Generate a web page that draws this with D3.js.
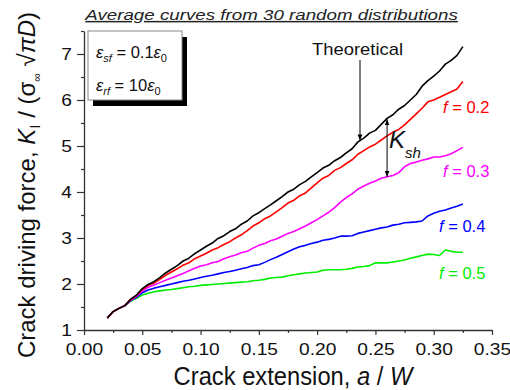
<!DOCTYPE html>
<html><head><meta charset="utf-8">
<script src="https://cdn.jsdelivr.net/npm/d3@7"></script>
<style>
body{margin:0;background:#fff;}
text{font-family:"Liberation Sans",Arial,sans-serif;}
</style></head>
<body>
<svg id="c" width="510" height="390"></svg>
<script>
const aValues = [0.020,0.025,0.030,0.035,0.040,0.045,0.050,0.055,0.060,0.065,0.070,0.075,0.080,0.085,0.090,0.095,0.100,0.105,0.110,0.115,0.120,0.125,0.130,0.135,0.140,0.145,0.150,0.155,0.160,0.165,0.170,0.175,0.180,0.185,0.190,0.195,0.200,0.205,0.210,0.215,0.220,0.225,0.230,0.235,0.240,0.245,0.250,0.255,0.260,0.265,0.270,0.275,0.280,0.285,0.290,0.295,0.300,0.305,0.310,0.315,0.320,0.325];
const theoretical = [1.26,1.40,1.47,1.53,1.67,1.76,1.90,1.99,2.05,2.14,2.24,2.32,2.40,2.50,2.56,2.66,2.74,2.82,2.89,2.99,3.05,3.14,3.20,3.30,3.37,3.48,3.55,3.64,3.72,3.81,3.90,4.00,4.06,4.16,4.23,4.33,4.42,4.52,4.58,4.68,4.75,4.85,4.94,5.09,5.17,5.28,5.34,5.47,5.60,5.68,5.80,5.88,6.00,6.12,6.30,6.42,6.52,6.63,6.78,6.86,6.97,7.16];
const f02 = [1.26,1.40,1.47,1.53,1.66,1.75,1.88,1.97,2.02,2.10,2.19,2.26,2.33,2.41,2.46,2.55,2.61,2.67,2.74,2.79,2.86,2.92,3.00,3.07,3.16,3.26,3.33,3.42,3.48,3.57,3.66,3.76,3.82,3.92,3.98,4.09,4.20,4.30,4.36,4.47,4.53,4.62,4.70,4.82,4.90,4.98,5.04,5.13,5.22,5.30,5.36,5.46,5.58,5.70,5.82,5.96,6.00,6.06,6.12,6.18,6.24,6.40];
const f03 = [1.26,1.40,1.47,1.53,1.65,1.73,1.85,1.93,1.98,2.03,2.08,2.13,2.18,2.23,2.29,2.34,2.39,2.42,2.46,2.49,2.55,2.59,2.63,2.68,2.71,2.78,2.84,2.88,2.94,2.98,3.04,3.10,3.14,3.20,3.26,3.33,3.40,3.48,3.56,3.66,3.78,3.88,3.96,4.06,4.13,4.19,4.24,4.30,4.33,4.36,4.42,4.55,4.62,4.65,4.69,4.72,4.76,4.76,4.79,4.83,4.90,4.97];
const f04 = [1.26,1.40,1.47,1.53,1.64,1.71,1.81,1.87,1.91,1.94,1.97,2.00,2.03,2.06,2.08,2.11,2.14,2.17,2.19,2.22,2.25,2.27,2.30,2.33,2.36,2.40,2.42,2.47,2.53,2.58,2.64,2.70,2.76,2.81,2.84,2.88,2.91,2.95,2.97,3.00,3.04,3.04,3.05,3.10,3.13,3.16,3.19,3.22,3.24,3.28,3.30,3.33,3.34,3.35,3.37,3.48,3.54,3.58,3.61,3.65,3.69,3.74];
const f05 = [1.26,1.40,1.47,1.53,1.63,1.69,1.76,1.80,1.83,1.85,1.87,1.88,1.90,1.92,1.94,1.95,1.97,1.98,1.99,2.00,2.01,2.02,2.03,2.04,2.05,2.07,2.08,2.10,2.13,2.14,2.15,2.18,2.20,2.22,2.24,2.25,2.26,2.30,2.31,2.31,2.31,2.32,2.34,2.37,2.38,2.40,2.46,2.46,2.46,2.48,2.50,2.52,2.56,2.59,2.62,2.65,2.64,2.62,2.74,2.71,2.69,2.69];
const seriesNames = ["Theoretical","f = 0.2","f = 0.3","f = 0.4","f = 0.5"];
const seriesColors = ["#000000","#ff0000","#ff00ff","#0000ff","#00ee00"];
const xTicks = [0.00,0.05,0.10,0.15,0.20,0.25,0.30,0.35];
const yTicks = [1,2,3,4,5,6,7];

const svg = d3.select("#c");
const x = d3.scaleLinear().domain([0,0.35]).range([84,492]);
const y = d3.scaleLinear().domain([1,7.5]).range([330,31]);
const axisColor = "#333";

// axes
const xAxis = svg.append("g").attr("transform","translate(0,330)")
  .call(d3.axisBottom(x).tickValues(xTicks).tickFormat(d3.format(".2f")).tickSize(5).tickSizeOuter(0));
const xMinor = svg.append("g").attr("transform","translate(0,330)")
  .call(d3.axisBottom(x).tickValues(d3.range(0.025,0.35,0.05)).tickFormat("").tickSize(3).tickSizeOuter(0));
xMinor.select(".domain").remove();
const yAxis = svg.append("g").attr("transform","translate(84,0)")
  .call(d3.axisLeft(y).tickValues(yTicks).tickFormat(d3.format("d")).tickSize(7).tickSizeOuter(0));
const yMinor = svg.append("g").attr("transform","translate(84,0)")
  .call(d3.axisLeft(y).tickValues([1.5,2.5,3.5,4.5,5.5,6.5,7.5]).tickFormat("").tickSize(3).tickSizeOuter(0));
yMinor.select(".domain").remove();
svg.selectAll(".domain").attr("stroke",axisColor).attr("stroke-width",1.3);
svg.selectAll(".tick line").attr("stroke",axisColor).attr("stroke-width",1.2);
xAxis.selectAll(".tick text").attr("font-size",16).attr("font-family","Liberation Sans, Arial").attr("fill","#111")
  .attr("dy",0).attr("y",25).attr("transform","scale(1.2,1)");
yAxis.selectAll(".tick text").attr("font-size",16).attr("font-family","Liberation Sans, Arial").attr("fill","#111")
  .attr("x",-10).attr("transform","scale(1.2,1)");

// lines
const allSeries = [theoretical,f02,f03,f04,f05];
const line = d3.line().x((d,i)=>x(aValues[i])).y(d=>y(d));
[4,3,2,1,0].forEach(k=>{
  svg.append("path").datum(allSeries[k]).attr("d",line)
    .attr("fill","none").attr("stroke",seriesColors[k]).attr("stroke-width",1.6).attr("stroke-linejoin","round");
});

// title
svg.append("g").attr("transform","translate(271.5,20) scale(1.25,1)")
  .append("text").attr("text-anchor","middle")
  .attr("font-size",15).attr("font-style","italic").attr("fill","#222")
  .attr("text-decoration","underline")
  .text("Average curves from 30 random distributions");

// legend box with shadow
svg.append("rect").attr("x",93).attr("y",37).attr("width",94).attr("height",69).attr("fill","#000");
svg.append("rect").attr("x",88).attr("y",31).attr("width",94).attr("height",69).attr("fill","#fff").attr("stroke","#888").attr("stroke-width",1);
function epsLine(yy, sub, mid){
  const t = svg.append("text").attr("x",96).attr("y",yy).attr("font-size",16.5).attr("fill","#111");
  t.append("tspan").attr("font-style","italic").text("ε");
  t.append("tspan").attr("font-style","italic").attr("font-size",11).attr("dy",4).text(sub);
  t.append("tspan").attr("dy",-4).text(mid);
  t.append("tspan").attr("font-style","italic").text("ε");
  t.append("tspan").attr("font-size",11).attr("dy",4).text("0");
}
epsLine(58,"sf"," = 0.1");
epsLine(91,"rf"," = 10");

// arrows
const defs = svg.append("defs");
defs.append("marker").attr("id","ah").attr("viewBox","0 0 10 10").attr("refX",10).attr("refY",5)
  .attr("markerWidth",6).attr("markerHeight",7).attr("orient","auto-start-reverse").attr("markerUnits","userSpaceOnUse")
  .append("path").attr("d","M0,1 L10,5 L0,9 Z").attr("fill","#000");
svg.append("g").attr("transform","translate(312,55) scale(1.15,1)")
  .append("text").attr("font-size",16).attr("fill","#111").text("Theoretical");
svg.append("line").attr("x1",360).attr("y1",60).attr("x2",360).attr("y2",y(5.12)).attr("stroke","#000").attr("stroke-width",1).attr("marker-end","url(#ah)");
const aK = 0.26;
svg.append("line").attr("x1",x(aK)).attr("y1",y(5.58)).attr("x2",x(aK)).attr("y2",y(4.33))
  .attr("stroke","#000").attr("stroke-width",1).attr("marker-end","url(#ah)").attr("marker-start","url(#ah)");
const ks = svg.append("text").attr("x",389).attr("y",148).attr("font-size",24).attr("font-style","italic").attr("fill","#111");
ks.append("tspan").text("K");
ks.append("tspan").attr("font-size",15).attr("dy",10).text("sh");

// series labels
const labelPos = [null,[443,113],[443,177],[439,232],[439,279]];
[1,2,3,4].forEach(k=>{
  const t = svg.append("text").attr("x",labelPos[k][0]).attr("y",labelPos[k][1]).attr("font-size",16.5).attr("fill",seriesColors[k]);
  t.append("tspan").attr("font-style","italic").text("f");
  t.append("tspan").text(seriesNames[k].slice(1));
});

// axis labels
svg.append("g").attr("transform","translate(293,385) scale(0.95,1)")
  .append("text").attr("text-anchor","middle").attr("font-size",25).attr("fill","#111")
  .html('Crack extension, <tspan font-style="italic">a</tspan> / <tspan font-style="italic">W</tspan>');
const yl = svg.append("text").attr("transform","translate(35,185) rotate(-90)").attr("text-anchor","middle").attr("font-size",24).attr("fill","#111");
yl.append("tspan").text("Crack driving force, ");
yl.append("tspan").attr("font-style","italic").text("K");
yl.append("tspan").attr("font-size",15).attr("dy",5).text("I");
yl.append("tspan").attr("dy",-5).text(" / (σ");
yl.append("tspan").attr("font-size",12).attr("dy",6).text("∞");
yl.append("tspan").attr("dy",-6).text(" √");
yl.append("tspan").attr("font-style","italic").text("πD");
yl.append("tspan").text(")");
</script>
</body></html>
